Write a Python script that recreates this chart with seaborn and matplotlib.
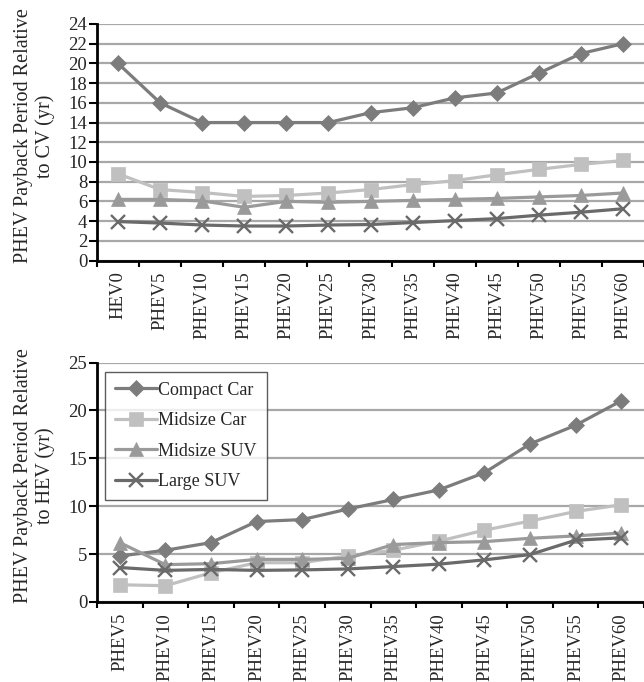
import matplotlib
matplotlib.use("Agg")
import matplotlib.pyplot as plt
import seaborn as sns
import pandas as pd

# Vehicle configurations
cv_configs = ["HEV0", "PHEV5", "PHEV10", "PHEV15", "PHEV20", "PHEV25", "PHEV30",
              "PHEV35", "PHEV40", "PHEV45", "PHEV50", "PHEV55", "PHEV60"]
hev_configs = cv_configs[1:]

vehicles = ["Compact Car", "Midsize Car", "Midsize SUV", "Large SUV"]

# Payback period relative to conventional vehicle (yr)
cv_compact = [20, 16, 14, 14, 14, 14, 15, 15.5, 16.5, 17, 19, 21, 22]
cv_midcar = [8.8, 7.2, 6.9, 6.5, 6.6, 6.85, 7.2, 7.7, 8.1, 8.7, 9.25, 9.75, 10.15]
cv_midsuv = [6.2, 6.2, 6.05, 5.4, 6.0, 5.9, 6.0, 6.1, 6.2, 6.3, 6.45, 6.6, 6.85]
cv_large = [3.95, 3.8, 3.6, 3.5, 3.5, 3.6, 3.65, 3.85, 4.05, 4.25, 4.6, 4.9, 5.25]

# Payback period relative to HEV (yr)
hev_compact = [4.8, 5.4, 6.2, 8.4, 8.6, 9.7, 10.7, 11.7, 13.5, 16.5, 18.45, 21.0]
hev_midcar = [1.8, 1.7, 3.05, 4.1, 4.1, 4.8, 5.4, 6.35, 7.5, 8.45, 9.45, 10.15]
hev_midsuv = [6.2, 3.9, 4.0, 4.45, 4.45, 4.55, 6.0, 6.2, 6.3, 6.65, 6.9, 7.2]
hev_large = [3.6, 3.3, 3.4, 3.3, 3.35, 3.45, 3.7, 3.95, 4.4, 4.95, 6.45, 6.7]

colors = {"Compact Car": "#7c7c7c", "Midsize Car": "#c0c0c0",
          "Midsize SUV": "#9a9a9a", "Large SUV": "#6a6a6a"}
markers = {"Compact Car": "D", "Midsize Car": "s", "Midsize SUV": "^", "Large SUV": "x"}
msizes = {"Compact Car": 8, "Midsize Car": 9.5, "Midsize SUV": 9.5, "Large SUV": 9.5}

sns.set_theme(style="white")
plt.rcParams["font.family"] = ["Liberation Serif", "DejaVu Serif"]

fig = plt.figure(figsize=(6.44, 6.82), dpi=100)
ax1 = fig.add_axes([97 / 644, 1 - 260.5 / 682, 547 / 644, 236.5 / 682])
ax2 = fig.add_axes([97 / 644, 1 - 602 / 682, 547 / 644, 239.5 / 682])


def draw(ax, cats, series, ymax, ystep, ylabel):
    for name, vals in zip(vehicles, series):
        df = pd.DataFrame({"x": range(len(cats)), "y": vals})
        sns.lineplot(data=df, x="x", y="y", ax=ax, color=colors[name],
                     marker=markers[name], markersize=msizes[name],
                     markeredgecolor=colors[name],
                     markeredgewidth=1.7 if markers[name] == "x" else 0.5,
                     linewidth=2.3, label=name, legend=False)
    ax.set_xlim(-0.5, len(cats) - 0.5)
    ax.set_ylim(0, ymax)
    ax.set_yticks(range(0, ymax + 1, ystep))
    ax.set_xticks(range(len(cats)))
    ax.set_xticklabels(cats, rotation=90, fontsize=13.5)
    ax.set_xticks([i - 0.5 for i in range(len(cats) + 1)], minor=True)
    ax.tick_params(axis="x", which="major", length=0, pad=8)
    ax.tick_params(axis="x", which="minor", direction="out", length=4.5,
                   width=1.5, color="black", bottom=True)
    ax.tick_params(axis="y", direction="out", length=5.5, width=1.5,
                   color="black", left=True, labelsize=13.5, pad=1.5)
    ax.yaxis.grid(True, color="#a8a8a8", linewidth=1.6)
    ax.xaxis.grid(False)
    ax.set_axisbelow(True)
    for side in ["top", "right"]:
        ax.spines[side].set_visible(False)
    for side in ["left", "bottom"]:
        ax.spines[side].set_color("black")
        ax.spines[side].set_linewidth(2)
    ax.set_xlabel("")
    ax.set_ylabel(ylabel, fontsize=14.5, linespacing=1.15)
    ax.yaxis.set_label_coords(-0.077, 0.527)


draw(ax1, cv_configs, [cv_compact, cv_midcar, cv_midsuv, cv_large], 24, 2,
     "PHEV Payback Period Relative\nto CV (yr)")
draw(ax2, hev_configs, [hev_compact, hev_midcar, hev_midsuv, hev_large], 25, 5,
     "PHEV Payback Period Relative\nto HEV (yr)")

leg = ax2.legend(loc="upper left", bbox_to_anchor=(0.015, 0.962), borderaxespad=0,
                 fontsize=13, frameon=True, fancybox=False, handlelength=2.3,
                 handletextpad=0.1, labelspacing=0.75, borderpad=0.55)
leg.get_frame().set_edgecolor("#333333")
leg.get_frame().set_linewidth(1.0)

fig.savefig("out.png", dpi=100)
